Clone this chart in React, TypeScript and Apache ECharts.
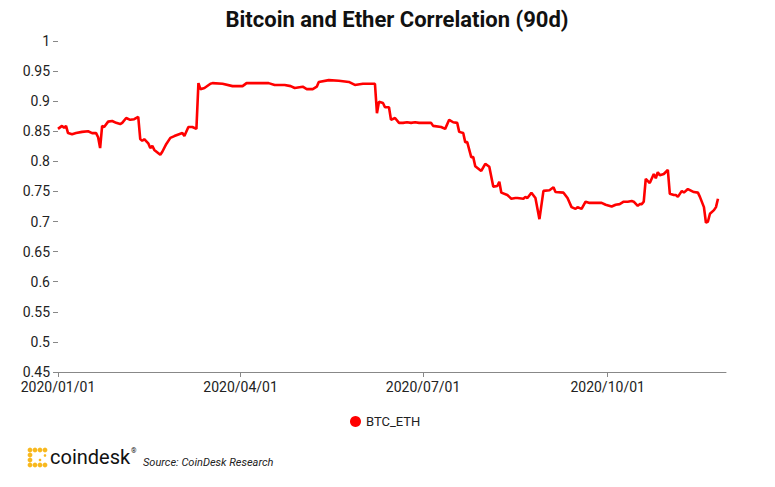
import React, { useEffect, useRef } from "react";
import * as echarts from "echarts";

const TITLE = "Bitcoin and Ether Correlation (90d)";
const SERIES_NAME = "BTC_ETH";
const X_MIN = "2020-01-01";
const X_MAX = "2020-11-29";
const TICK_DATES = ["2020-01-01", "2020-04-01", "2020-07-01", "2020-10-01"];
const Y_MIN = 0.45;
const Y_MAX = 1;
const Y_STEP = 0.05;

const dates = [
  "2020-01-01", "2020-01-03", "2020-01-04", "2020-01-05", "2020-01-06", "2020-01-08", "2020-01-10",
  "2020-01-13", "2020-01-16", "2020-01-18", "2020-01-20", "2020-01-21", "2020-01-22", "2020-01-23",
  "2020-01-24", "2020-01-26", "2020-01-28", "2020-01-30", "2020-02-01", "2020-02-02", "2020-02-04",
  "2020-02-06", "2020-02-08", "2020-02-10", "2020-02-11", "2020-02-12", "2020-02-13", "2020-02-15",
  "2020-02-16", "2020-02-17", "2020-02-18", "2020-02-21", "2020-02-22", "2020-02-24", "2020-02-26",
  "2020-02-28", "2020-03-03", "2020-03-04", "2020-03-06", "2020-03-08", "2020-03-10", "2020-03-11",
  "2020-03-12", "2020-03-14", "2020-03-17", "2020-03-18", "2020-03-23", "2020-03-28", "2020-04-02",
  "2020-04-04", "2020-04-10", "2020-04-15", "2020-04-18", "2020-04-23", "2020-04-26", "2020-04-28",
  "2020-05-02", "2020-05-04", "2020-05-07", "2020-05-09", "2020-05-10", "2020-05-15", "2020-05-20",
  "2020-05-25", "2020-05-28", "2020-06-01", "2020-06-07", "2020-06-08", "2020-06-09", "2020-06-11",
  "2020-06-12", "2020-06-14", "2020-06-15", "2020-06-17", "2020-06-19", "2020-06-21", "2020-06-23",
  "2020-06-25", "2020-06-27", "2020-06-29", "2020-07-05", "2020-07-06", "2020-07-10", "2020-07-12",
  "2020-07-14", "2020-07-16", "2020-07-18", "2020-07-19", "2020-07-21", "2020-07-22", "2020-07-23",
  "2020-07-25", "2020-07-26", "2020-07-27", "2020-07-30", "2020-08-01", "2020-08-03", "2020-08-05",
  "2020-08-07", "2020-08-08", "2020-08-09", "2020-08-12", "2020-08-13", "2020-08-14", "2020-08-16",
  "2020-08-17", "2020-08-20", "2020-08-21", "2020-08-22", "2020-08-24", "2020-08-26", "2020-08-28",
  "2020-08-30", "2020-09-02", "2020-09-04", "2020-09-05", "2020-09-09", "2020-09-11", "2020-09-13",
  "2020-09-15", "2020-09-16", "2020-09-18", "2020-09-20", "2020-09-22", "2020-09-28", "2020-09-30",
  "2020-10-03", "2020-10-05", "2020-10-07", "2020-10-09", "2020-10-11", "2020-10-13", "2020-10-14",
  "2020-10-16", "2020-10-17", "2020-10-18", "2020-10-19", "2020-10-20", "2020-10-22", "2020-10-24",
  "2020-10-25", "2020-10-26", "2020-10-27", "2020-10-29", "2020-10-31", "2020-11-01", "2020-11-03",
  "2020-11-04", "2020-11-05", "2020-11-07", "2020-11-08", "2020-11-10", "2020-11-13", "2020-11-15",
  "2020-11-16", "2020-11-18", "2020-11-19", "2020-11-20", "2020-11-21", "2020-11-23", "2020-11-24",
  "2020-11-25",
];

const btcEth = [
  0.854, 0.859, 0.856, 0.859, 0.847, 0.845, 0.847,
  0.849, 0.850, 0.847, 0.847, 0.840, 0.822, 0.859,
  0.857, 0.866, 0.867, 0.864, 0.862, 0.864, 0.872,
  0.869, 0.870, 0.874, 0.837, 0.834, 0.837, 0.830,
  0.822, 0.826, 0.819, 0.811, 0.816, 0.829, 0.839,
  0.842, 0.847, 0.842, 0.857, 0.857, 0.854, 0.930,
  0.920, 0.922, 0.929, 0.930, 0.929, 0.925, 0.925,
  0.930, 0.930, 0.930, 0.927, 0.927, 0.925, 0.922,
  0.924, 0.920, 0.920, 0.924, 0.932, 0.935, 0.934,
  0.932, 0.927, 0.929, 0.929, 0.880, 0.899, 0.897,
  0.890, 0.890, 0.869, 0.872, 0.864, 0.864, 0.865,
  0.864, 0.865, 0.864, 0.864, 0.859, 0.857, 0.854,
  0.869, 0.865, 0.864, 0.849, 0.847, 0.832, 0.832,
  0.807, 0.807, 0.792, 0.784, 0.796, 0.791, 0.758,
  0.759, 0.766, 0.748, 0.744, 0.741, 0.738, 0.739,
  0.739, 0.738, 0.741, 0.739, 0.748, 0.739, 0.704,
  0.751, 0.752, 0.757, 0.749, 0.748, 0.739, 0.724,
  0.721, 0.724, 0.721, 0.733, 0.731, 0.731, 0.728,
  0.725, 0.728, 0.729, 0.733, 0.733, 0.734, 0.733,
  0.726, 0.729, 0.729, 0.733, 0.771, 0.764, 0.779,
  0.772, 0.782, 0.777, 0.779, 0.786, 0.746, 0.744,
  0.744, 0.741, 0.751, 0.748, 0.754, 0.749, 0.748,
  0.741, 0.724, 0.698, 0.700, 0.713, 0.719, 0.724,
  0.738,
];

const FONT = "Roboto, 'Liberation Sans', Arial, sans-serif";
const YELLOW = "#F8B81E";

function pad(n: number) {
  return n < 10 ? "0" + n : String(n);
}
function ts(d: string) {
  return Date.UTC(+d.slice(0, 4), +d.slice(5, 7) - 1, +d.slice(8, 10));
}

export default function App() {
  const ref = useRef<HTMLDivElement>(null);

  useEffect(() => {
    if (!ref.current) return;
    const chart = echarts.init(ref.current, null, { renderer: "svg" });
    const data = dates.map((d, i) => [ts(d), btcEth[i]]);
    const tickValues = TICK_DATES.map(ts);

    const dots: any[] = [];
    const dotPos = [
      [30, 450], [35, 450], [40, 450], [45, 450],
      [30, 455], [30, 460],
      [30, 465], [35, 465], [40, 465], [45, 465],
      [45, 455.5], [40, 460],
    ];
    dotPos.forEach(([x, y], i) => {
      dots.push({
        type: "circle",
        shape: { cx: x, cy: y, r: i >= 10 ? 1.3 : 2.4 },
        style: { fill: YELLOW },
        silent: true,
      });
    });

    chart.setOption({
      animation: false,
      backgroundColor: "#ffffff",
      title: {
        text: TITLE,
        left: 392,
        top: 3,
        textAlign: "center",
        textStyle: { fontFamily: FONT, fontSize: 22, fontWeight: "bold", color: "#111" },
      },
      legend: {
        data: [SERIES_NAME],
        left: 345,
        top: 410,
        icon: "circle",
        itemWidth: 11,
        itemHeight: 11,
        itemGap: 5,
        textStyle: { fontFamily: FONT, fontSize: 13, color: "#222" },
      },
      grid: { left: 58, right: 49, top: 41, bottom: 115, containLabel: false },
      xAxis: {
        type: "value",
        min: ts(X_MIN),
        max: ts(X_MAX),
        axisLine: { show: true, lineStyle: { color: "#888", width: 1 } },
        axisTick: { show: true, customValues: tickValues, length: 5, lineStyle: { color: "#888" } },
        axisLabel: {
          customValues: tickValues,
          margin: 8,
          fontFamily: FONT,
          fontSize: 14,
          color: "#222",
          showMinLabel: true,
          formatter: (v: number) => {
            const d = new Date(v);
            return d.getUTCFullYear() + "/" + pad(d.getUTCMonth() + 1) + "/" + pad(d.getUTCDate());
          },
        },
        splitLine: { show: false },
      },
      yAxis: {
        type: "value",
        min: Y_MIN,
        max: Y_MAX,
        interval: Y_STEP,
        axisLine: { show: false },
        axisTick: { show: true, length: 5, lineStyle: { color: "#888" } },
        axisLabel: {
          margin: 8,
          fontFamily: FONT,
          fontSize: 14,
          color: "#222",
          formatter: (v: number) => String(+v.toFixed(2)),
        },
        splitLine: { show: false },
      },
      series: [
        {
          name: SERIES_NAME,
          type: "line",
          data,
          showSymbol: false,
          symbol: "circle",
          itemStyle: { color: "#ff0000" },
          lineStyle: { color: "#ff0000", width: 2.6 },
        },
      ],
      graphic: [
        ...dots,
        {
          type: "text",
          left: 50,
          top: 447,
          style: { text: "coindesk", font: "400 20px " + FONT, fill: "#111" },
          silent: true,
        },
        {
          type: "text",
          left: 131,
          top: 447,
          style: { text: "®", font: "7px " + FONT, fill: "#111" },
          silent: true,
        },
        {
          type: "text",
          left: 143,
          top: 457,
          style: { text: "Source: CoinDesk Research", font: "italic 11px " + FONT, fill: "#222" },
          silent: true,
        },
      ],
    });
    return () => chart.dispose();
  }, []);

  return (
    <div
      ref={ref}
      style={{ position: "absolute", left: 0, top: 0, width: 775, height: 487 }}
    />
  );
}
